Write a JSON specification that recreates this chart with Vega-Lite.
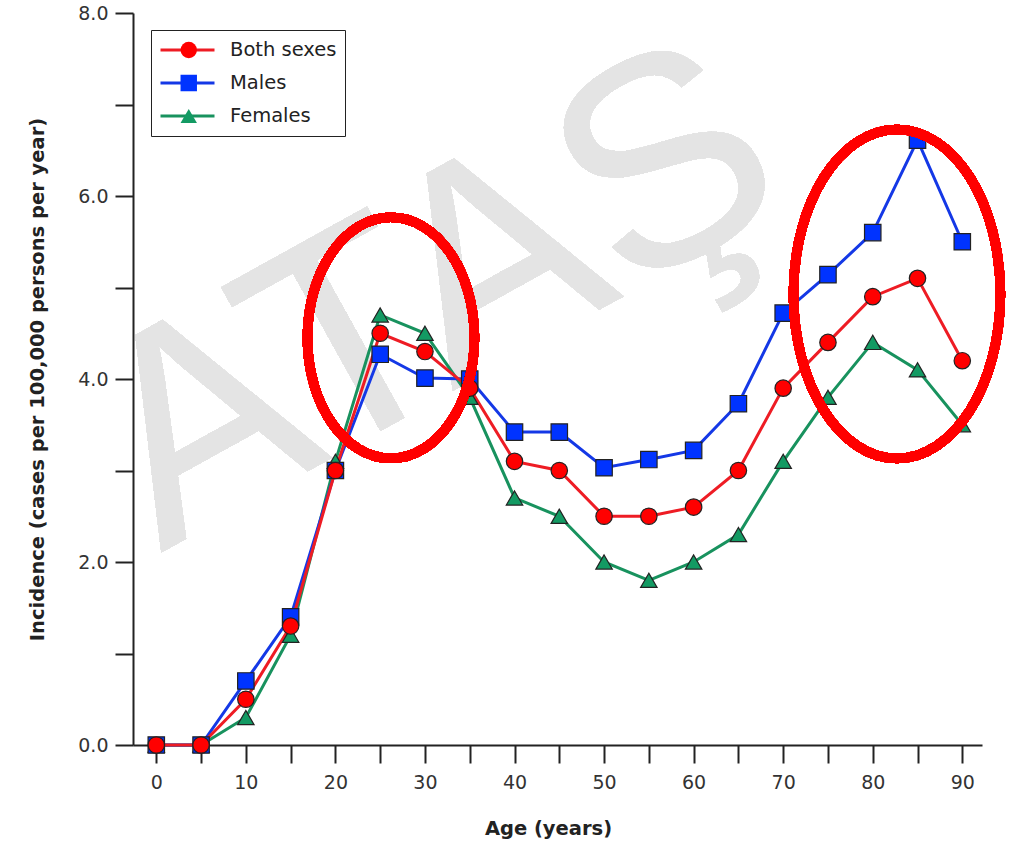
{
  "$schema": "https://vega.github.io/schema/vega-lite/v6.json",
  "width": 849,
  "height": 732,
  "autosize": {"type": "none"},
  "padding": {"left": 133, "top": 13, "right": 41, "bottom": 99},
  "config": {
    "view": {"stroke": null},
    "font": "DejaVu Sans",
    "axis": {
      "grid": false,
      "domainColor": "#222",
      "domainWidth": 2,
      "tickColor": "#222",
      "tickWidth": 2,
      "tickSize": 18,
      "labelFont": "DejaVu Sans",
      "labelFontSize": 19,
      "labelColor": "#333",
      "titleFont": "DejaVu Sans",
      "titleFontWeight": "bold",
      "titleFontSize": 19.5,
      "titleColor": "#222"
    },
    "legend": {
      "labelFont": "DejaVu Sans",
      "labelFontSize": 19.5,
      "labelColor": "#222"
    }
  },
  "data": {
    "values": [
      {"sex": "Females", "age": 0, "incidence": 0},
      {"sex": "Females", "age": 5, "incidence": 0},
      {"sex": "Females", "age": 10, "incidence": 0.3},
      {"sex": "Females", "age": 15, "incidence": 1.2},
      {"sex": "Females", "age": 20, "incidence": 3.1},
      {"sex": "Females", "age": 25, "incidence": 4.7},
      {"sex": "Females", "age": 30, "incidence": 4.5},
      {"sex": "Females", "age": 35, "incidence": 3.8},
      {"sex": "Females", "age": 40, "incidence": 2.7},
      {"sex": "Females", "age": 45, "incidence": 2.5},
      {"sex": "Females", "age": 50, "incidence": 2.0},
      {"sex": "Females", "age": 55, "incidence": 1.8},
      {"sex": "Females", "age": 60, "incidence": 2.0},
      {"sex": "Females", "age": 65, "incidence": 2.3},
      {"sex": "Females", "age": 70, "incidence": 3.1},
      {"sex": "Females", "age": 75, "incidence": 3.8},
      {"sex": "Females", "age": 80, "incidence": 4.4},
      {"sex": "Females", "age": 85, "incidence": 4.1},
      {"sex": "Females", "age": 90, "incidence": 3.5},
      {"sex": "Males", "age": 0, "incidence": 0},
      {"sex": "Males", "age": 5, "incidence": 0},
      {"sex": "Males", "age": 10, "incidence": 0.7},
      {"sex": "Males", "age": 15, "incidence": 1.4},
      {"sex": "Males", "age": 20, "incidence": 3.0},
      {"sex": "Males", "age": 25, "incidence": 4.27},
      {"sex": "Males", "age": 30, "incidence": 4.01},
      {"sex": "Males", "age": 35, "incidence": 4.0},
      {"sex": "Males", "age": 40, "incidence": 3.42},
      {"sex": "Males", "age": 45, "incidence": 3.42},
      {"sex": "Males", "age": 50, "incidence": 3.03},
      {"sex": "Males", "age": 55, "incidence": 3.12},
      {"sex": "Males", "age": 60, "incidence": 3.22},
      {"sex": "Males", "age": 65, "incidence": 3.73},
      {"sex": "Males", "age": 70, "incidence": 4.72},
      {"sex": "Males", "age": 75, "incidence": 5.14},
      {"sex": "Males", "age": 80, "incidence": 5.6},
      {"sex": "Males", "age": 85, "incidence": 6.61},
      {"sex": "Males", "age": 90, "incidence": 5.5},
      {"sex": "Both sexes", "age": 0, "incidence": 0},
      {"sex": "Both sexes", "age": 5, "incidence": 0},
      {"sex": "Both sexes", "age": 10, "incidence": 0.5},
      {"sex": "Both sexes", "age": 15, "incidence": 1.3},
      {"sex": "Both sexes", "age": 20, "incidence": 3.0},
      {"sex": "Both sexes", "age": 25, "incidence": 4.5},
      {"sex": "Both sexes", "age": 30, "incidence": 4.3},
      {"sex": "Both sexes", "age": 35, "incidence": 3.9},
      {"sex": "Both sexes", "age": 40, "incidence": 3.1},
      {"sex": "Both sexes", "age": 45, "incidence": 3.0},
      {"sex": "Both sexes", "age": 50, "incidence": 2.5},
      {"sex": "Both sexes", "age": 55, "incidence": 2.5},
      {"sex": "Both sexes", "age": 60, "incidence": 2.6},
      {"sex": "Both sexes", "age": 65, "incidence": 3.0},
      {"sex": "Both sexes", "age": 70, "incidence": 3.9},
      {"sex": "Both sexes", "age": 75, "incidence": 4.4},
      {"sex": "Both sexes", "age": 80, "incidence": 4.9},
      {"sex": "Both sexes", "age": 85, "incidence": 5.1},
      {"sex": "Both sexes", "age": 90, "incidence": 4.2}
    ]
  },
  "encoding": {
    "x": {
      "field": "age",
      "type": "quantitative",
      "title": "Age (years)",
      "scale": {"domain": [-2.6, 92.2], "nice": false, "zero": false},
      "axis": {
        "values": [0, 5, 10, 15, 20, 25, 30, 35, 40, 45, 50, 55, 60, 65, 70, 75, 80, 85, 90],
        "labelExpr": "datum.value % 10 == 0 ? format(datum.value, 'd') : ''",
        "labelPadding": 10,
        "titlePadding": 27,
        "titleX": 415
      }
    },
    "y": {
      "field": "incidence",
      "type": "quantitative",
      "title": "Incidence (cases per 100,000 persons per year)",
      "scale": {"domain": [0, 8], "nice": false},
      "axis": {
        "values": [0, 1, 2, 3, 4, 5, 6, 7, 8],
        "labelExpr": "datum.value % 2 == 0 ? format(datum.value, '.1f') : ''",
        "labelPadding": 7,
        "titlePadding": 30
      }
    }
  },
  "layer": [
    {
      "mark": {
        "type": "text",
        "text": "ATAŞ",
        "font": "Liberation Sans",
        "fontSize": 295,
        "angle": -29,
        "align": "left",
        "baseline": "alphabetic",
        "color": "#e4e4e4"
      },
      "encoding": {
        "x": {"datum": 0.5},
        "y": {"datum": 2.1}
      }
    },
    {
      "mark": {"type": "line", "strokeWidth": 3},
      "encoding": {
        "stroke": {
          "field": "sex",
          "type": "nominal",
          "sort": ["Both sexes", "Males", "Females"],
          "scale": {"range": ["#ee1c24", "#1438e6", "#18925e"]},
          "legend": {
            "title": null,
            "orient": "none",
            "legendX": 18,
            "legendY": 17,
            "symbolType": "stroke",
            "symbolSize": 2916,
            "symbolStrokeWidth": 3,
            "clipHeight": 24,
            "rowPadding": 9,
            "padding": 8,
            "labelOffset": 14,
            "strokeColor": "#222",
            "fillColor": "white"
          }
        }
      }
    },
    {
      "mark": {"type": "point", "filled": true, "opacity": 1, "size": 270, "stroke": "#222", "strokeWidth": 1.2},
      "encoding": {
        "color": {
          "field": "sex",
          "type": "nominal",
          "scale": {
            "domain": ["Both sexes", "Males", "Females"],
            "range": ["#ff0000", "#0033ff", "#139a63"]
          },
          "legend": {
            "title": null,
            "orient": "none",
            "legendX": 38,
            "legendY": 17,
            "symbolSize": 270,
            "symbolStrokeColor": "#222",
            "symbolStrokeWidth": 1.2,
            "symbolOpacity": 1,
            "clipHeight": 24,
            "rowPadding": 9,
            "padding": 8,
            "labelExpr": "''"
          }
        },
        "shape": {
          "field": "sex",
          "type": "nominal",
          "scale": {
            "domain": ["Both sexes", "Males", "Females"],
            "range": ["circle", "square", "triangle-up"]
          },
          "legend": {
            "title": null,
            "orient": "none",
            "legendX": 38,
            "legendY": 17,
            "symbolSize": 270,
            "symbolStrokeColor": "#222",
            "symbolStrokeWidth": 1.2,
            "symbolOpacity": 1,
            "clipHeight": 24,
            "rowPadding": 9,
            "padding": 8,
            "labelExpr": "''"
          }
        }
      }
    },
    {
      "mark": {
        "type": "point",
        "filled": false,
        "opacity": 1,
        "stroke": "#ff0000",
        "strokeWidth": 9.5,
        "size": 58081,
        "shape": "M 0.693 0 C 0.693 0.5523 0.3827 1 0 1 C -0.3827 1 -0.693 0.5523 -0.693 0 C -0.693 -0.5523 -0.3827 -1 0 -1 C 0.3827 -1 0.693 -0.5523 0.693 0 Z"
      },
      "encoding": {
        "x": {"datum": 26.2},
        "y": {"datum": 4.45}
      }
    },
    {
      "mark": {
        "type": "point",
        "filled": false,
        "opacity": 1,
        "stroke": "#ff0000",
        "strokeWidth": 9.5,
        "size": 108241,
        "shape": "M 0.629 0 C 0.629 0.5523 0.3474 1 0 1 C -0.3474 1 -0.629 0.5523 -0.629 0 C -0.629 -0.5523 -0.3474 -1 0 -1 C 0.3474 -1 0.629 -0.5523 0.629 0 Z"
      },
      "encoding": {
        "x": {"datum": 82.7},
        "y": {"datum": 4.93}
      }
    }
  ]
}
